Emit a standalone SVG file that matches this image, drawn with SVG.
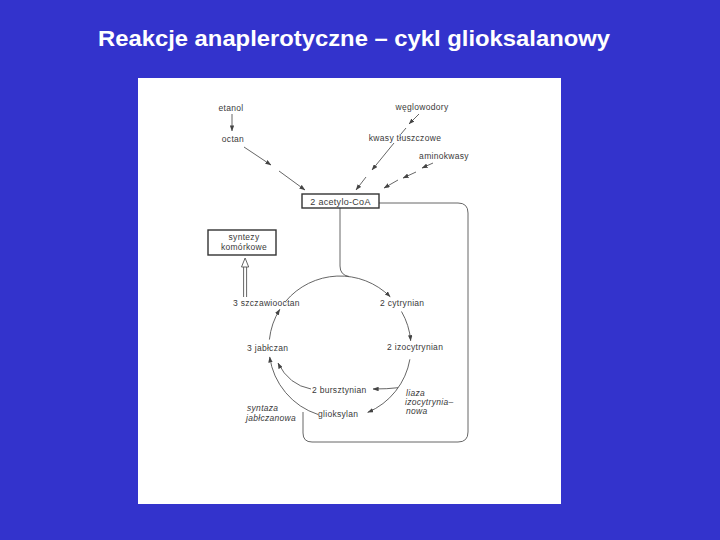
<svg xmlns="http://www.w3.org/2000/svg" width="720" height="540" viewBox="0 0 720 540">
<defs>
<marker id="ah" viewBox="0 0 8 6" refX="7.5" refY="3" markerWidth="6" markerHeight="4.5" markerUnits="userSpaceOnUse" orient="auto">
<path d="M0,0 L8,3 L0,6 z" fill="#444"/>
</marker>
<style>
.t{font-family:"Liberation Sans",Arial,sans-serif;font-size:8.5px;fill:#3a3a3a;letter-spacing:0.3px}
.i{font-style:italic}
.c{text-anchor:middle}
.ln{fill:none;stroke:#555;stroke-width:0.9}
.ar{fill:none;stroke:#555;stroke-width:0.9;marker-end:url(#ah)}
.bx{fill:#fff;stroke:#333;stroke-width:1.4}
</style>
</defs>
<rect x="0" y="0" width="720" height="540" fill="#3333CC"/>
<text x="98" y="46" font-family="Liberation Sans, Arial, sans-serif" font-size="22" font-weight="bold" fill="#fff" textLength="512" lengthAdjust="spacingAndGlyphs">Reakcje anaplerotyczne – cykl glioksalanowy</text>
<rect x="138" y="78" width="423" height="426" fill="#fff"/>

<g id="connectors">
<line class="ar" x1="232" y1="114" x2="232" y2="131"/>
<line class="ar" x1="244" y1="147" x2="271" y2="165"/>
<line class="ar" x1="279" y1="171" x2="305" y2="190"/>
<line class="ar" x1="419" y1="114" x2="409" y2="124"/>
<line class="ln" x1="406" y1="128" x2="401" y2="134"/>
<line class="ar" x1="394" y1="143" x2="372" y2="170"/>
<line class="ar" x1="366" y1="177" x2="356" y2="190"/>
<line class="ar" x1="433" y1="163" x2="422" y2="168"/>
<line class="ar" x1="416" y1="172" x2="403" y2="178"/>
<line class="ar" x1="398" y1="180" x2="384" y2="188"/>
<path class="ln" d="M340,208 V266 Q340,275 349,276.5"/>
<path class="ar" d="M285.6,301.4 A71,71 0 0 1 390.2,296.8"/>
<path class="ar" d="M401.5,311.5 A71,71 0 0 1 410.7,340.8"/>
<path class="ar" d="M409.9,359.3 A71,71 0 0 1 367.7,412.4"/>
<path class="ar" d="M398.2,387.7 Q388,389 373,389"/>
<path class="ar" d="M318.1,414.5 A71,71 0 0 1 269.7,356.9"/>
<path class="ar" d="M311,389 Q289,385 278,363"/>
<path class="ar" d="M269.4,339.6 A71,71 0 0 1 279.8,309.4"/>
<path class="ln" d="M379,203 H458 Q468,203 468,213 V432 Q468,442 458,442 H312 Q303,442 303,433 V412"/>
<g id="hollow-arrow">
<line class="ln" x1="243.6" y1="297" x2="243.6" y2="266"/>
<line class="ln" x1="246.6" y1="297" x2="246.6" y2="266"/>
<path d="M241.5,267 L245.1,258 L248.7,267 z" fill="#fff" stroke="#555" stroke-width="0.9"/>
</g>
</g>

<g id="etanol"><text class="t c" x="231" y="111">etanol</text></g>
<g id="octan"><text class="t c" x="233" y="142">octan</text></g>
<g id="weglowodory"><text class="t c" x="422" y="110">węglowodory</text></g>
<g id="kwasy"><text class="t c" x="405" y="141">kwasy tłuszczowe</text></g>
<g id="aminokwasy"><text class="t c" x="444" y="159">aminokwasy</text></g>
<g id="acetylo-coa">
<rect class="bx" x="302" y="194" width="77" height="14"/>
<text class="t c" x="340.5" y="204.5" style="font-size:9px">2 acetylo-CoA</text>
</g>
<g id="syntezy">
<rect class="bx" x="208" y="230" width="68" height="25"/>
<text class="t c" x="244" y="240">syntezy</text>
<text class="t c" x="244" y="249.5">komórkowe</text>
</g>
<g id="szczawiooctan"><text class="t" x="233" y="306">3 szczawiooctan</text></g>
<g id="cytrynian"><text class="t" x="380" y="306">2 cytrynian</text></g>
<g id="izocytrynian"><text class="t" x="387" y="350">2 izocytrynian</text></g>
<g id="jablczan"><text class="t" x="247" y="351">3 jabłczan</text></g>
<g id="bursztynian"><text class="t" x="312" y="393">2 bursztynian</text></g>
<g id="glioksylan"><text class="t" x="318" y="417">glioksylan</text></g>
<g id="liaza">
<text class="t i" x="406" y="396">liaza</text>
<text class="t i" x="405" y="405">izocytrynia–</text>
<text class="t i" x="406" y="414">nowa</text>
</g>
<g id="syntaza">
<text class="t i" x="247" y="411">syntaza</text>
<text class="t i" x="246" y="421">jabłczanowa</text>
</g>
</svg>
